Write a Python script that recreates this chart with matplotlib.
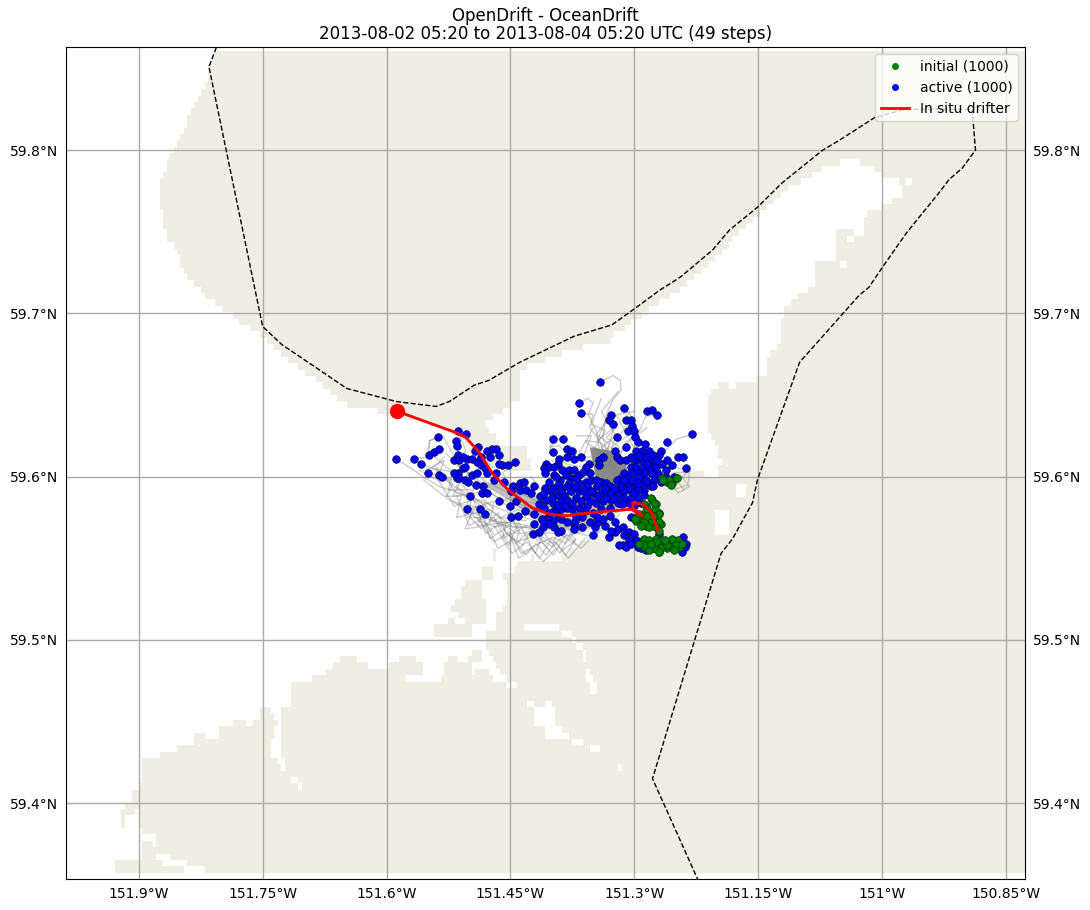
import numpy as np
import matplotlib
matplotlib.use('Agg')
import matplotlib.pyplot as plt
from matplotlib.path import Path
from matplotlib.colors import ListedColormap

# --- map limits and labels ---
lon_min, lon_max = -151.988, -150.827
lat_min, lat_max = 59.3535, 59.863
lon_ticks = [-151.9, -151.75, -151.6, -151.45, -151.3, -151.15, -151.0, -150.85]
lon_labels = ['151.9°W', '151.75°W', '151.6°W', '151.45°W', '151.3°W', '151.15°W', '151°W', '150.85°W']
lat_ticks = [59.4, 59.5, 59.6, 59.7, 59.8]
lat_labels = ['59.4°N', '59.5°N', '59.6°N', '59.7°N', '59.8°N']

# --- coastline (lon, lat) ---
land_outline = [
    (-151.806, 59.862), (-151.815, 59.851), (-151.818, 59.841), (-151.830, 59.831), (-151.841, 59.817),
    (-151.855, 59.804), (-151.866, 59.792), (-151.873, 59.780), (-151.873, 59.763), (-151.866, 59.747),
    (-151.851, 59.734), (-151.841, 59.722), (-151.818, 59.710), (-151.794, 59.701), (-151.775, 59.694),
    (-151.750, 59.686), (-151.717, 59.671), (-151.686, 59.659), (-151.649, 59.644), (-151.596, 59.639),
    (-151.572, 59.635), (-151.542, 59.632), (-151.512, 59.625), (-151.500, 59.616), (-151.476, 59.609),
    (-151.452, 59.604), (-151.425, 59.605), (-151.430, 59.618), (-151.460, 59.619), (-151.470, 59.625),
    (-151.478, 59.631), (-151.478, 59.634), (-151.470, 59.634), (-151.470, 59.638), (-151.458, 59.639),
    (-151.458, 59.643), (-151.451, 59.643), (-151.436, 59.649), (-151.436, 59.664), (-151.428, 59.664),
    (-151.428, 59.668), (-151.411, 59.668), (-151.411, 59.671), (-151.388, 59.673), (-151.388, 59.676),
    (-151.364, 59.676), (-151.363, 59.679), (-151.327, 59.681), (-151.327, 59.685), (-151.318, 59.689),
    (-151.306, 59.693), (-151.296, 59.697), (-151.285, 59.701), (-151.275, 59.705), (-151.265, 59.708),
    (-151.245, 59.714), (-151.221, 59.725), (-151.193, 59.739), (-151.152, 59.759), (-151.116, 59.776),
    (-151.072, 59.788), (-151.048, 59.793), (-151.019, 59.792), (-151.000, 59.784), (-150.977, 59.780),
    (-150.977, 59.773), (-151.000, 59.765), (-151.019, 59.763), (-151.024, 59.747), (-151.043, 59.751),
    (-151.056, 59.751), (-151.054, 59.731), (-151.079, 59.730), (-151.082, 59.717), (-151.106, 59.709),
    (-151.120, 59.701), (-151.125, 59.681), (-151.140, 59.671), (-151.140, 59.664), (-151.155, 59.659),
    (-151.185, 59.655), (-151.195, 59.659), (-151.212, 59.647), (-151.212, 59.627), (-151.203, 59.622),
    (-151.195, 59.610), (-151.201, 59.598), (-151.215, 59.598), (-151.218, 59.604), (-151.245, 59.605),
    (-151.264, 59.597), (-151.276, 59.586), (-151.282, 59.567), (-151.294, 59.564), (-151.339, 59.564),
    (-151.358, 59.561), (-151.376, 59.555), (-151.385, 59.551), (-151.395, 59.547), (-151.407, 59.547),
    (-151.423, 59.551), (-151.441, 59.547), (-151.447, 59.543), (-151.457, 59.539), (-151.454, 59.524),
    (-151.467, 59.514), (-151.467, 59.507), (-151.478, 59.506), (-151.478, 59.494), (-151.472, 59.489),
    (-151.466, 59.483), (-151.454, 59.475), (-151.454, 59.473), (-151.470, 59.474), (-151.479, 59.482),
    (-151.490, 59.482), (-151.497, 59.477), (-151.497, 59.485), (-151.485, 59.486), (-151.485, 59.494),
    (-151.497, 59.494), (-151.503, 59.486), (-151.514, 59.486), (-151.515, 59.489), (-151.527, 59.489),
    (-151.531, 59.480), (-151.535, 59.473), (-151.576, 59.473), (-151.576, 59.477), (-151.557, 59.477),
    (-151.557, 59.485), (-151.567, 59.489), (-151.582, 59.489), (-151.591, 59.486), (-151.609, 59.482),
    (-151.623, 59.482), (-151.625, 59.485), (-151.637, 59.489), (-151.656, 59.489), (-151.661, 59.485),
    (-151.671, 59.482), (-151.671, 59.477), (-151.690, 59.477), (-151.690, 59.473), (-151.715, 59.473),
    (-151.715, 59.461), (-151.727, 59.457), (-151.727, 59.433), (-151.724, 59.420), (-151.727, 59.420),
    (-151.732, 59.425), (-151.738, 59.428), (-151.740, 59.436), (-151.736, 59.444), (-151.732, 59.448),
    (-151.738, 59.453), (-151.740, 59.457), (-151.752, 59.457), (-151.752, 59.452), (-151.762, 59.452),
    (-151.762, 59.448), (-151.770, 59.448), (-151.770, 59.452), (-151.786, 59.452), (-151.786, 59.448),
    (-151.799, 59.448), (-151.804, 59.444), (-151.804, 59.441), (-151.820, 59.441), (-151.820, 59.444),
    (-151.832, 59.444), (-151.835, 59.436), (-151.854, 59.436), (-151.854, 59.432), (-151.873, 59.432),
    (-151.873, 59.428), (-151.895, 59.428), (-151.895, 59.411), (-151.898, 59.411), (-151.898, 59.408),
    (-151.910, 59.408), (-151.910, 59.399), (-151.915, 59.399), (-151.922, 59.395), (-151.922, 59.386),
    (-151.915, 59.386), (-151.915, 59.391), (-151.903, 59.391), (-151.903, 59.395), (-151.898, 59.395),
    (-151.898, 59.385), (-151.895, 59.382), (-151.878, 59.382), (-151.878, 59.374), (-151.881, 59.374),
    (-151.881, 59.378), (-151.895, 59.378), (-151.895, 59.366), (-151.929, 59.366), (-151.929, 59.357),
    (-151.932, 59.357), (-151.932, 59.356), (-151.828, 59.356), (-151.828, 59.358), (-151.845, 59.358),
    (-151.845, 59.362), (-151.869, 59.362), (-151.869, 59.366), (-151.878, 59.366), (-151.878, 59.370),
    (-151.861, 59.370), (-151.861, 59.367), (-151.841, 59.367), (-151.841, 59.362), (-151.820, 59.362),
    (-151.820, 59.358), (-151.804, 59.358), (-151.804, 59.356), (-150.825, 59.356), (-150.825, 59.862),
]
islet_big = [
    (-151.503, 59.536), (-151.482, 59.536), (-151.482, 59.527), (-151.478, 59.527), (-151.478, 59.510),
    (-151.498, 59.510), (-151.498, 59.502), (-151.541, 59.502), (-151.541, 59.510), (-151.527, 59.510),
    (-151.527, 59.515), (-151.519, 59.515), (-151.519, 59.510), (-151.507, 59.510), (-151.507, 59.515),
    (-151.515, 59.515), (-151.515, 59.519), (-151.522, 59.519), (-151.522, 59.523), (-151.519, 59.523),
    (-151.519, 59.527), (-151.510, 59.527), (-151.510, 59.531), (-151.503, 59.531),
]
# small islets and ponds: west, east, south, north
islets = [
    (-151.473, -151.466, 59.548, 59.556),
    (-151.482, -151.470, 59.5355, 59.5435),
]
ponds = [
    (-151.432, -151.390, 59.506, 59.510), (-151.386, -151.374, 59.502, 59.506),
    (-151.374, -151.370, 59.498, 59.502), (-151.370, -151.364, 59.494, 59.498),
    (-151.364, -151.360, 59.485, 59.494), (-151.360, -151.356, 59.482, 59.485),
    (-151.360, -151.352, 59.477, 59.482), (-151.356, -151.348, 59.473, 59.477),
    (-151.352, -151.345, 59.465, 59.473), (-151.454, -151.441, 59.469, 59.473),
    (-151.429, -151.420, 59.457, 59.461), (-151.420, -151.395, 59.448, 59.457),
    (-151.407, -151.388, 59.444, 59.448), (-151.407, -151.377, 59.441, 59.444),
    (-151.374, -151.361, 59.436, 59.440), (-151.355, -151.342, 59.433, 59.436),
    (-151.322, -151.316, 59.420, 59.423), (-151.407, -151.402, 59.457, 59.461),
    (-151.178, -151.166, 59.589, 59.597), (-151.203, -151.186, 59.564, 59.581),
    (-150.973, -150.965, 59.780, 59.784), (-151.053, -151.045, 59.727, 59.730),
    (-151.041, -151.036, 59.743, 59.747), (-151.715, -151.707, 59.411, 59.415),
    (-151.707, -151.702, 59.408, 59.411),
]
# EEZ style dashed boundary
border_lon = [-151.806, -151.815, -151.750, -151.727, -151.686, -151.648, -151.588, -151.540, -151.524,
              -151.494, -151.476, -151.439, -151.373, -151.327, -151.294, -151.270, -151.245, -151.233,
              -151.205, -151.185, -151.151, -151.121, -151.072, -151.052, -151.009, -150.973, -150.891,
              -150.887, -150.903, -150.919, -150.931, -150.971, -151.000, -151.016, -151.028, -151.100,
              -151.151, -151.157, -151.181, -151.195, -151.278, -151.223]
border_lat = [59.863, 59.851, 59.692, 59.681, 59.667, 59.654, 59.646, 59.643, 59.646,
              59.656, 59.659, 59.670, 59.686, 59.693, 59.705, 59.714, 59.722, 59.727,
              59.739, 59.751, 59.765, 59.780, 59.800, 59.806, 59.820, 59.825, 59.825,
              59.800, 59.789, 59.782, 59.774, 59.749, 59.728, 59.716, 59.711, 59.670,
              59.598, 59.584, 59.562, 59.553, 59.415, 59.353]

# --- in situ drifter ---
drifter_lon = [-151.587, -151.516, -151.504, -151.488, -151.472, -151.455, -151.440, -151.424, -151.403,
               -151.383, -151.351, -151.304, -151.290, -151.302, -151.302, -151.288, -151.278, -151.272]
drifter_lat = [59.640, 59.627, 59.624, 59.615, 59.602, 59.593, 59.587, 59.581, 59.577,
               59.576, 59.578, 59.580, 59.576, 59.581, 59.584, 59.583, 59.577, 59.567]

# --- element positions ---
initial_pts = [
    (-151.266, 59.599), (-151.261, 59.597), (-151.255, 59.596), (-151.249, 59.599), (-151.258, 59.598),
    (-151.279, 59.586), (-151.274, 59.583), (-151.286, 59.582), (-151.270, 59.578), (-151.276, 59.579),
    (-151.284, 59.578), (-151.290, 59.577), (-151.298, 59.573), (-151.292, 59.574), (-151.286, 59.573),
    (-151.280, 59.571), (-151.274, 59.569), (-151.286, 59.570), (-151.268, 59.571), (-151.272, 59.574),
    (-151.280, 59.575), (-151.288, 59.562), (-151.288, 59.557), (-151.280, 59.558), (-151.274, 59.557),
    (-151.268, 59.560), (-151.261, 59.560), (-151.255, 59.561), (-151.249, 59.559), (-151.245, 59.557),
    (-151.247, 59.561), (-151.253, 59.557), (-151.261, 59.556), (-151.270, 59.554), (-151.278, 59.556),
    (-151.282, 59.560), (-151.274, 59.562), (-151.266, 59.557), (-151.257, 59.558),
    (-151.280, 59.587), (-151.288, 59.583), (-151.294, 59.577), (-151.285, 59.580), (-151.275, 59.580),
    (-151.270, 59.577), (-151.270, 59.572), (-151.280, 59.572), (-151.288, 59.572), (-151.297, 59.575),
    (-151.282, 59.569), (-151.274, 59.569), (-151.270, 59.567), (-151.276, 59.584), (-151.285, 59.576),
    (-151.278, 59.576), (-151.292, 59.570), (-151.299, 59.574),
    (-151.288, 59.558), (-151.282, 59.561), (-151.276, 59.556), (-151.267, 59.561), (-151.260, 59.558),
    (-151.255, 59.562), (-151.249, 59.558), (-151.270, 59.554), (-151.282, 59.555), (-151.274, 59.560),
    (-151.252, 59.555), (-151.242, 59.559), (-151.294, 59.559), (-151.263, 59.561), (-151.280, 59.559),
    (-151.265, 59.598), (-151.256, 59.595), (-151.248, 59.599),
]
active_pts = [
    (-151.589, 59.611), (-151.567, 59.611), (-151.558, 59.608), (-151.550, 59.602), (-151.549, 59.613),
    (-151.542, 59.615), (-151.537, 59.617), (-151.538, 59.624), (-151.514, 59.628), (-151.504, 59.626),
    (-151.516, 59.622), (-151.515, 59.619), (-151.514, 59.613), (-151.518, 59.610), (-151.512, 59.610),
    (-151.502, 59.611), (-151.497, 59.611), (-151.493, 59.616), (-151.489, 59.618), (-151.478, 59.616),
    (-151.472, 59.617), (-151.468, 59.617), (-151.464, 59.613), (-151.445, 59.609), (-151.453, 59.607),
    (-151.460, 59.607), (-151.464, 59.608), (-151.490, 59.609), (-151.486, 59.607), (-151.481, 59.605),
    (-151.478, 59.602), (-151.468, 59.602), (-151.536, 59.601), (-151.533, 59.600), (-151.508, 59.605),
    (-151.513, 59.602), (-151.518, 59.602), (-151.515, 59.599), (-151.512, 59.599), (-151.505, 59.598),
    (-151.501, 59.597), (-151.497, 59.601), (-151.490, 59.602), (-151.492, 59.595), (-151.483, 59.594),
    (-151.499, 59.588), (-151.484, 59.590), (-151.478, 59.590), (-151.464, 59.585), (-151.502, 59.580),
    (-151.487, 59.580), (-151.481, 59.577), (-151.449, 59.575), (-151.441, 59.576), (-151.443, 59.585),
    (-151.447, 59.594), (-151.449, 59.591), (-151.439, 59.596), (-151.434, 59.597), (-151.439, 59.592),
    (-151.431, 59.592), (-151.425, 59.590), (-151.421, 59.594), (-151.414, 59.588), (-151.408, 59.593),
    (-151.407, 59.586), (-151.401, 59.591), (-151.398, 59.593), (-151.432, 59.579),
    (-151.398, 59.623), (-151.386, 59.623), (-151.398, 59.615), (-151.382, 59.617), (-151.375, 59.616),
    (-151.365, 59.612), (-151.373, 59.611), (-151.382, 59.612), (-151.391, 59.611), (-151.392, 59.608),
    (-151.407, 59.608), (-151.409, 59.605), (-151.403, 59.606), (-151.397, 59.606), (-151.408, 59.602),
    (-151.397, 59.601), (-151.387, 59.604), (-151.379, 59.604), (-151.373, 59.604), (-151.367, 59.601),
    (-151.377, 59.599), (-151.390, 59.598), (-151.403, 59.597), (-151.393, 59.595), (-151.387, 59.593),
    (-151.379, 59.596), (-151.367, 59.596), (-151.359, 59.597), (-151.352, 59.598), (-151.346, 59.598),
    (-151.340, 59.597), (-151.334, 59.596), (-151.330, 59.594), (-151.357, 59.594), (-151.367, 59.591),
    (-151.377, 59.591), (-151.385, 59.589), (-151.393, 59.589), (-151.399, 59.584), (-151.389, 59.585),
    (-151.381, 59.586), (-151.371, 59.587), (-151.359, 59.588), (-151.350, 59.590), (-151.340, 59.590),
    (-151.334, 59.591), (-151.328, 59.590), (-151.320, 59.592), (-151.312, 59.595), (-151.306, 59.596),
    (-151.298, 59.598), (-151.290, 59.599), (-151.367, 59.645), (-151.364, 59.639), (-151.341, 59.658),
    (-151.328, 59.638), (-151.331, 59.635), (-151.326, 59.632), (-151.312, 59.642), (-151.310, 59.635),
    (-151.304, 59.635), (-151.303, 59.631), (-151.308, 59.628), (-151.301, 59.628), (-151.285, 59.640),
    (-151.279, 59.641), (-151.272, 59.638), (-151.321, 59.624), (-151.299, 59.624), (-151.295, 59.621),
    (-151.287, 59.620), (-151.261, 59.621), (-151.230, 59.626), (-151.310, 59.618), (-151.323, 59.616),
    (-151.355, 59.608), (-151.359, 59.606), (-151.343, 59.610), (-151.343, 59.607), (-151.338, 59.612),
    (-151.321, 59.612), (-151.317, 59.610), (-151.310, 59.610), (-151.304, 59.612), (-151.298, 59.616),
    (-151.291, 59.616), (-151.282, 59.616), (-151.268, 59.616), (-151.247, 59.612), (-151.241, 59.612),
    (-151.237, 59.605), (-151.270, 59.613), (-151.276, 59.609), (-151.282, 59.610), (-151.290, 59.609),
    (-151.298, 59.610), (-151.304, 59.606), (-151.298, 59.606), (-151.290, 59.605), (-151.282, 59.605),
    (-151.274, 59.606), (-151.266, 59.608), (-151.255, 59.607), (-151.262, 59.604), (-151.272, 59.603),
    (-151.280, 59.602), (-151.288, 59.602), (-151.296, 59.602), (-151.304, 59.602), (-151.312, 59.602),
    (-151.316, 59.599), (-151.308, 59.599), (-151.300, 59.595), (-151.292, 59.595), (-151.284, 59.596),
    (-151.276, 59.598), (-151.268, 59.597), (-151.280, 59.594), (-151.288, 59.592), (-151.296, 59.592),
    (-151.304, 59.591), (-151.312, 59.591), (-151.320, 59.589), (-151.312, 59.587), (-151.304, 59.587),
    (-151.296, 59.587), (-151.288, 59.589), (-151.306, 59.584), (-151.320, 59.584), (-151.328, 59.586),
    (-151.338, 59.585), (-151.346, 59.584), (-151.357, 59.582), (-151.367, 59.581), (-151.375, 59.580),
    (-151.381, 59.581), (-151.389, 59.580), (-151.397, 59.579), (-151.422, 59.577), (-151.422, 59.571),
    (-151.412, 59.574), (-151.423, 59.565), (-151.411, 59.569), (-151.399, 59.573), (-151.397, 59.569),
    (-151.393, 59.566), (-151.389, 59.567), (-151.373, 59.571), (-151.373, 59.568), (-151.363, 59.569),
    (-151.354, 59.572), (-151.348, 59.569), (-151.344, 59.572), (-151.338, 59.574), (-151.330, 59.576),
    (-151.324, 59.572), (-151.350, 59.564), (-151.331, 59.563), (-151.324, 59.566), (-151.320, 59.568),
    (-151.314, 59.569), (-151.306, 59.566), (-151.300, 59.565), (-151.298, 59.561), (-151.306, 59.561),
    (-151.314, 59.558), (-151.318, 59.558), (-151.310, 59.557), (-151.296, 59.557), (-151.292, 59.556),
    (-151.286, 59.555), (-151.241, 59.563), (-151.237, 59.559), (-151.239, 59.557), (-151.242, 59.554),
    (-151.270, 59.565), (-151.304, 59.575), (-151.363, 59.575), (-151.371, 59.576), (-151.389, 59.574),
    (-151.405, 59.575), (-151.411, 59.573),
    (-151.395, 59.600), (-151.383, 59.601), (-151.371, 59.599), (-151.362, 59.603), (-151.354, 59.602),
    (-151.321, 59.598), (-151.313, 59.598),
    (-151.303, 59.598), (-151.294, 59.600), (-151.286, 59.598), (-151.278, 59.594), (-151.296, 59.596),
    (-151.305, 59.593), (-151.316, 59.594), (-151.325, 59.593), (-151.336, 59.593), (-151.345, 59.594),
    (-151.353, 59.591), (-151.362, 59.592), (-151.372, 59.594), (-151.382, 59.594), (-151.390, 59.592),
    (-151.400, 59.587), (-151.409, 59.590), (-151.416, 59.583), (-151.409, 59.581), (-151.402, 59.578),
    (-151.393, 59.582), (-151.384, 59.582), (-151.376, 59.584), (-151.365, 59.585), (-151.354, 59.585),
    (-151.345, 59.588), (-151.334, 59.587), (-151.325, 59.587), (-151.315, 59.583), (-151.300, 59.590),
    (-151.292, 59.584), (-151.300, 59.582), (-151.330, 59.581), (-151.340, 59.580), (-151.350, 59.578),
    (-151.360, 59.579), (-151.372, 59.573), (-151.382, 59.572), (-151.392, 59.576), (-151.403, 59.571),
    (-151.415, 59.566), (-151.345, 59.575), (-151.335, 59.570), (-151.328, 59.567), (-151.312, 59.564),
    (-151.304, 59.559), (-151.292, 59.560), (-151.302, 59.611), (-151.294, 59.613), (-151.286, 59.612),
    (-151.278, 59.613), (-151.272, 59.610), (-151.260, 59.610), (-151.252, 59.600), (-151.262, 59.600),
    (-151.270, 59.601), (-151.285, 59.608), (-151.470, 59.598), (-151.458, 59.597), (-151.450, 59.582),
    (-151.505, 59.606), (-151.508, 59.612), (-151.486, 59.612), (-151.475, 59.612),
]

# --- a sample of the grey trajectories ---
tracks = [
    [(-151.341, 59.658), (-151.326, 59.662), (-151.317, 59.659), (-151.316, 59.653), (-151.326, 59.647), (-151.334, 59.638), (-151.338, 59.624), (-151.330, 59.608)],
    [(-151.367, 59.645), (-151.356, 59.648), (-151.350, 59.645), (-151.356, 59.638), (-151.346, 59.628), (-151.342, 59.616), (-151.330, 59.606)],
    [(-151.364, 59.639), (-151.350, 59.638), (-151.354, 59.630), (-151.342, 59.622), (-151.334, 59.610)],
    [(-151.230, 59.626), (-151.249, 59.623), (-151.262, 59.616), (-151.278, 59.610), (-151.302, 59.606)],
    [(-151.272, 59.638), (-151.286, 59.637), (-151.294, 59.628), (-151.310, 59.621), (-151.324, 59.608)],
    [(-151.312, 59.642), (-151.302, 59.636), (-151.312, 59.629), (-151.326, 59.621), (-151.330, 59.608)],
    [(-151.398, 59.623), (-151.403, 59.618), (-151.391, 59.619), (-151.381, 59.614), (-151.359, 59.610), (-151.330, 59.604)],
    [(-151.386, 59.623), (-151.395, 59.623), (-151.403, 59.616), (-151.383, 59.608), (-151.350, 59.604)],
    [(-151.257, 59.606), (-151.233, 59.604), (-151.235, 59.595), (-151.253, 59.592), (-151.243, 59.600), (-151.233, 59.594), (-151.247, 59.590), (-151.257, 59.595)],
    [(-151.589, 59.611), (-151.573, 59.606), (-151.556, 59.600), (-151.536, 59.594), (-151.512, 59.590), (-151.484, 59.585), (-151.447, 59.577), (-151.407, 59.571)],
    [(-151.567, 59.611), (-151.548, 59.612), (-151.548, 59.622), (-151.532, 59.625), (-151.522, 59.616), (-151.512, 59.606), (-151.488, 59.596), (-151.456, 59.583), (-151.419, 59.575)],
    [(-151.558, 59.608), (-151.540, 59.604), (-151.520, 59.596), (-151.528, 59.587), (-151.500, 59.579), (-151.472, 59.573), (-151.439, 59.571), (-151.399, 59.567)],
    [(-151.550, 59.602), (-151.532, 59.600), (-151.508, 59.590), (-151.488, 59.583), (-151.500, 59.575), (-151.472, 59.575), (-151.460, 59.570), (-151.431, 59.569), (-151.407, 59.565)],
    [(-151.502, 59.580), (-151.488, 59.573), (-151.468, 59.569), (-151.447, 59.573), (-151.439, 59.565), (-151.419, 59.567), (-151.395, 59.565)],
    [(-151.481, 59.577), (-151.460, 59.569), (-151.443, 59.559), (-151.431, 59.565), (-151.411, 59.563), (-151.399, 59.559), (-151.391, 59.567)],
    [(-151.449, 59.575), (-151.439, 59.567), (-151.443, 59.560), (-151.419, 59.564), (-151.399, 59.557), (-151.387, 59.563), (-151.359, 59.567)],
    [(-151.423, 59.565), (-151.415, 59.559), (-151.399, 59.563), (-151.383, 59.559), (-151.371, 59.567), (-151.350, 59.569)],
    [(-151.387, 59.555), (-151.371, 59.561), (-151.379, 59.567), (-151.350, 59.563), (-151.334, 59.569), (-151.318, 59.577)],
    [(-151.538, 59.624), (-151.548, 59.622), (-151.550, 59.616), (-151.528, 59.606), (-151.496, 59.596), (-151.464, 59.587), (-151.427, 59.579)],
    [(-151.514, 59.628), (-151.504, 59.616), (-151.516, 59.608), (-151.484, 59.596), (-151.456, 59.587), (-151.419, 59.579), (-151.383, 59.577)],
    [(-151.445, 59.609), (-151.460, 59.602), (-151.447, 59.592), (-151.415, 59.584), (-151.383, 59.581), (-151.350, 59.583), (-151.318, 59.583)],
    [(-151.493, 59.616), (-151.472, 59.606), (-151.484, 59.598), (-151.460, 59.592), (-151.431, 59.585), (-151.399, 59.581)],
    [(-151.310, 59.638), (-151.298, 59.632), (-151.302, 59.625), (-151.314, 59.616), (-151.326, 59.604)],
    [(-151.350, 59.630), (-151.359, 59.621), (-151.342, 59.616), (-151.350, 59.608), (-151.326, 59.606)],
    [(-151.334, 59.634), (-151.346, 59.626), (-151.330, 59.620), (-151.338, 59.612)],
    [(-151.367, 59.614), (-151.359, 59.622), (-151.342, 59.621), (-151.326, 59.614)],
    [(-151.322, 59.630), (-151.334, 59.624), (-151.318, 59.618), (-151.326, 59.608)],
    [(-151.528, 59.614), (-151.500, 59.602), (-151.516, 59.594), (-151.488, 59.585), (-151.464, 59.575), (-151.431, 59.573)],
    [(-151.512, 59.598), (-151.496, 59.587), (-151.504, 59.583), (-151.472, 59.579), (-151.447, 59.569), (-151.407, 59.569), (-151.383, 59.569)],
    [(-151.443, 59.559), (-151.431, 59.552), (-151.419, 59.559), (-151.407, 59.552), (-151.395, 59.560), (-151.383, 59.552), (-151.371, 59.562)],
    [(-151.552, 59.604), (-151.530, 59.610), (-151.538, 59.600), (-151.510, 59.597), (-151.520, 59.588), (-151.490, 59.590), (-151.470, 59.580)],
    [(-151.530, 59.612), (-151.545, 59.605), (-151.520, 59.603), (-151.525, 59.592), (-151.495, 59.592), (-151.500, 59.580), (-151.470, 59.585), (-151.475, 59.572), (-151.440, 59.580)],
    [(-151.560, 59.604), (-151.535, 59.597), (-151.540, 59.606), (-151.515, 59.590), (-151.480, 59.583), (-151.490, 59.570), (-151.455, 59.572), (-151.460, 59.562), (-151.430, 59.570)],
    [(-151.505, 59.578), (-151.485, 59.568), (-151.465, 59.578), (-151.455, 59.565), (-151.435, 59.558), (-151.425, 59.568), (-151.405, 59.556)],
    [(-151.470, 59.575), (-151.452, 59.558), (-151.440, 59.572), (-151.420, 59.553), (-151.410, 59.566), (-151.390, 59.553), (-151.375, 59.568)],
    [(-151.450, 59.566), (-151.437, 59.553), (-151.412, 59.560), (-151.398, 59.552), (-151.382, 59.565), (-151.365, 59.556), (-151.345, 59.566)],
    [(-151.340, 59.648), (-151.352, 59.632), (-151.335, 59.628), (-151.348, 59.618), (-151.332, 59.612)],
    [(-151.300, 59.640), (-151.322, 59.638), (-151.308, 59.625), (-151.328, 59.618), (-151.320, 59.606)],
    [(-151.370, 59.625), (-151.352, 59.625), (-151.362, 59.612), (-151.340, 59.612)],
    [(-151.320, 59.652), (-151.340, 59.640), (-151.322, 59.625), (-151.340, 59.618), (-151.328, 59.610)],
    [(-151.285, 59.630), (-151.305, 59.622), (-151.295, 59.612), (-151.315, 59.610)],
    [(-151.400, 59.610), (-151.380, 59.605), (-151.390, 59.590), (-151.365, 59.580), (-151.340, 59.585)],
    [(-151.425, 59.600), (-151.410, 59.590), (-151.420, 59.578), (-151.395, 59.572), (-151.375, 59.578), (-151.350, 59.575)],
    [(-151.345, 59.566), (-151.325, 59.575), (-151.335, 59.590), (-151.312, 59.598)],
    [(-151.240, 59.592), (-151.255, 59.602), (-151.235, 59.603), (-151.250, 59.596), (-151.265, 59.600)],
    [(-151.515, 59.588), (-151.500, 59.570), (-151.482, 59.575), (-151.475, 59.562), (-151.452, 59.570)],
    [(-151.555, 59.598), (-151.530, 59.588), (-151.510, 59.588), (-151.515, 59.575), (-151.490, 59.578), (-151.470, 59.565)],
    [(-151.470, 59.570), (-151.448, 59.553), (-151.430, 59.560), (-151.415, 59.550), (-151.400, 59.562), (-151.380, 59.550), (-151.360, 59.562)],
    [(-151.490, 59.575), (-151.470, 59.560), (-151.452, 59.566), (-151.440, 59.550), (-151.425, 59.556), (-151.410, 59.548), (-151.395, 59.556)],
    [(-151.520, 59.585), (-151.495, 59.580), (-151.505, 59.568), (-151.478, 59.570), (-151.465, 59.556), (-151.445, 59.562)],
    [(-151.540, 59.600), (-151.518, 59.582), (-151.495, 59.586), (-151.480, 59.565), (-151.462, 59.572), (-151.442, 59.565)],
    [(-151.460, 59.585), (-151.440, 59.590), (-151.425, 59.575), (-151.405, 59.580), (-151.390, 59.565), (-151.370, 59.558)],
    [(-151.330, 59.640), (-151.345, 59.622), (-151.325, 59.630), (-151.335, 59.610), (-151.350, 59.618), (-151.320, 59.604)],
]
# where the 1000 tracks pile up into solid grey
dense_core = [(-151.354, 59.618), (-151.330, 59.616), (-151.310, 59.610), (-151.308, 59.598),
              (-151.326, 59.594), (-151.346, 59.598), (-151.350, 59.608)]
dense_band = [(-151.302, 59.581), (-151.326, 59.577), (-151.350, 59.569), (-151.383, 59.567),
              (-151.407, 59.569), (-151.435, 59.579), (-151.464, 59.590), (-151.488, 59.596),
              (-151.451, 59.596), (-151.415, 59.587), (-151.367, 59.594), (-151.318, 59.598)]

# --- land mask, blocky like the landmask raster ---
lon_cells = np.arange(lon_min, lon_max, 0.0042)
lat_cells = np.arange(lat_min, lat_max, 0.0039)
grid_lon, grid_lat = np.meshgrid(lon_cells + 0.0021, lat_cells + 0.00195)
cell_pts = np.column_stack([grid_lon.ravel(), grid_lat.ravel()])
mask = Path(land_outline).contains_points(cell_pts) | Path(islet_big).contains_points(cell_pts)
mask = mask.reshape(grid_lon.shape)
for w, e, s, n in islets:
    mask[(grid_lon > w) & (grid_lon < e) & (grid_lat > s) & (grid_lat < n)] = True
for w, e, s, n in ponds:
    mask[(grid_lon > w) & (grid_lon < e) & (grid_lat > s) & (grid_lat < n)] = False

# --- plot ---
fig = plt.figure(figsize=(10.9, 9.1), dpi=100)
ax = fig.add_axes([0.0606, 0.034, 0.8798, 0.914])

land_cmap = ListedColormap(['#ffffff', '#eeeee3'])
ax.imshow(mask.astype(float), origin='lower', aspect='auto', cmap=land_cmap, vmin=0, vmax=1,
          interpolation='nearest', zorder=0,
          extent=[lon_cells[0], lon_cells[-1] + 0.0042, lat_cells[0], lat_cells[-1] + 0.0039])

ax.set_axisbelow(True)
ax.grid(True, color='#aaaaaa', linewidth=1)
ax.plot(border_lon, border_lat, color='k', linestyle='--', linewidth=1, zorder=1.5)

ax.fill(*zip(*dense_band), color='#9a9a9a', alpha=0.6, linewidth=0, zorder=1.8)
ax.fill(*zip(*dense_core), color='#8a8a8a', linewidth=0, zorder=1.9)
for tr in tracks:
    ax.plot(*zip(*tr), color='gray', alpha=0.4, linewidth=1, zorder=2)

active_lon, active_lat = zip(*active_pts)
initial_lon, initial_lat = zip(*initial_pts)
ax.scatter(active_lon, active_lat, s=30, color='b', edgecolor='#000040', linewidth=0.5, zorder=3)
ax.scatter(initial_lon, initial_lat, s=30, color='g', edgecolor='#003000', linewidth=0.5, zorder=4)

ax.plot(drifter_lon, drifter_lat, color='r', linewidth=2, zorder=5)
ax.plot(drifter_lon[0], drifter_lat[0], 'o', color='r', markersize=10, zorder=5)

# legend proxies
ax.plot([], [], '.', color='g', markersize=8, label='initial (1000)')
ax.plot([], [], '.', color='b', markersize=8, label='active (1000)')
ax.plot([], [], color='r', linewidth=2, label='In situ drifter')
ax.legend(loc='upper right').set_zorder(10)

ax.set_xlim(lon_min, lon_max)
ax.set_ylim(lat_min, lat_max)
ax.set_xticks(lon_ticks, lon_labels)
ax.set_yticks(lat_ticks, lat_labels)
ax.tick_params(length=0, pad=6, labelright=True)
ax.set_title('OpenDrift - OceanDrift\n2013-08-02 05:20 to 2013-08-04 05:20 UTC (49 steps)',
             fontsize=12, linespacing=1.0)

fig.savefig('out.png', dpi=100)
